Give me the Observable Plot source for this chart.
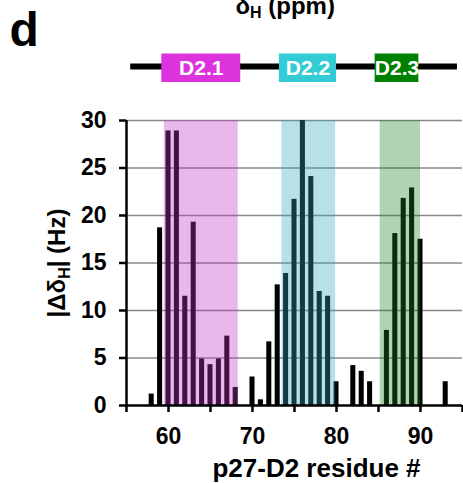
<!DOCTYPE html>
<html><head><meta charset="utf-8">
<script src="https://cdn.jsdelivr.net/npm/d3@7"></script>
<script src="https://cdn.jsdelivr.net/npm/@observablehq/plot@0.6"></script>
<style>body{margin:0;background:#fff}</style>
</head><body><div id="chart"></div>
<script>
// residue numbers and |Δδ_H| values (Hz)
const residues = [58,59,60,61,62,63,64,65,66,67,68,70,71,72,73,74,75,76,77,78,79,80,82,83,84,86,87,88,89,90,93];
const values   = [1.2,18.7,28.9,28.9,11.5,19.3,4.9,4.3,4.9,7.3,1.9,3.0,0.6,6.7,12.7,13.9,21.7,30.0,24.1,12.0,11.5,2.5,4.2,3.6,2.5,7.9,18.1,21.8,22.9,17.5,2.5];

// shaded regions
const regionNames = ["D2.1","D2.2","D2.3"];
const regionStart = [59.5, 73.5, 85.2];
const regionEnd   = [68.3, 79.9, 90.0];
const regionColor = ["#c030c0","#30a8b8","#208020"];

// domain diagram boxes
const boxStart = [59.2, 73.2, 84.6];
const boxEnd   = [68.6, 80.0, 89.8];
const boxColor = ["#dd33dd","#33ccd6","#008000"];
const diagramStart = 55.5, diagramEnd = 94.4;

const xTicks = [55,60,65,70,75,80,85,90,95];
const xTickLabels = [60,70,80,90];
const yTicks = [0,5,10,15,20,25,30];

const bars = residues.map((r,i)=>({res:r, val:values[i]}));
const regions = regionNames.map((n,i)=>({name:n, x1:regionStart[i], x2:regionEnd[i], color:regionColor[i]}));
const boxes = regionNames.map((n,i)=>({name:n, x1:boxStart[i], x2:boxEnd[i], color:boxColor[i]}));

const font = "'Liberation Sans', Arial, Helvetica, sans-serif";

const svg = Plot.plot({
  width: 463, height: 483,
  marginLeft: 126, marginRight: 1, marginTop: 120, marginBottom: 78,
  style: {fontFamily: font, fontWeight: "bold", color: "black", background: "white", overflow: "visible"},
  x: {domain: [55, 95]},
  y: {domain: [0, 30]},
  marks: [
    Plot.gridY(yTicks.filter(d=>d>0), {stroke: "#888", strokeOpacity: 1, strokeWidth: 1.5}),
    Plot.rectY(bars, {x1: d=>d.res-0.3, x2: d=>d.res+0.3, y1: 0, y2: "val", fill: "black"}),
    Plot.rect(regions, {x1: "x1", x2: "x2", y1: 0, y2: 30, fill: "color", fillOpacity: 0.35}),
    Plot.ruleY([0], {stroke: "black", strokeWidth: 2.5}),
    Plot.ruleX([55], {y1: 0, y2: 30, stroke: "black", strokeWidth: 2.5}),
    Plot.axisX({ticks: xTicks, tickFormat: d => xTickLabels.includes(d) ? String(d) : "", tickSize: 7, tickPadding: 15, strokeWidth: 2.5, fontSize: 23, fontWeight: "bold", label: null}),
    Plot.axisY({ticks: yTicks, tickSize: 7, tickPadding: 13, strokeWidth: 2.5, fontSize: 23, fontWeight: "bold", label: null}),
    Plot.text(["p27-D2 residue #"], {frameAnchor: "bottom", dx: 22, dy: 71, lineAnchor: "bottom", fontSize: 26, fontWeight: "bold", fill: "black"}),
    Plot.text(["|ΔδH| (Hz)"], {frameAnchor: "left", dx: -69, dy: 0, rotate: -90, lineAnchor: "middle", textAnchor: "middle", fontSize: 24, fontWeight: "bold", fill: "black"}),
    // domain diagram
    Plot.ruleY([35.68], {x1: diagramStart, x2: diagramEnd, stroke: "black", strokeWidth: 6}),
    Plot.rect(boxes, {x1: "x1", x2: "x2", y1: 34.0, y2: 37.0, fill: "color"}),
    Plot.text(boxes, {x: d=>(d.x1+d.x2)/2, y: 35.5, text: "name", fill: "white", fontSize: 21, fontWeight: "bold", lineAnchor: "middle"}),
    // panel letter and top title
    Plot.text(["d"], {frameAnchor: "top-left", dx: -117, dy: -75, textAnchor: "start", lineAnchor: "bottom", fontSize: 48, fontWeight: "bold", fill: "black"}),
    Plot.text(["δH (ppm)"], {frameAnchor: "top-left", dx: 109, dy: -107, textAnchor: "start", lineAnchor: "bottom", fontSize: 24, fontWeight: "bold", fill: "black"})
  ]
});

function subscriptify(full, parts, subSize, shift) {
  d3.select(svg).selectAll("text").filter(function(){return this.textContent === full;}).each(function(){
    const t = d3.select(this);
    t.text(null);
    let prevSub = false;
    parts.forEach(p => {
      const s = t.append("tspan").text(p.t);
      if (p.sub) { s.attr("font-size", subSize).attr("dy", shift); prevSub = true; }
      else if (prevSub) { s.attr("dy", -shift); prevSub = false; }
    });
  });
}
subscriptify("|ΔδH| (Hz)", [{t:"|Δδ"},{t:"H", sub:true},{t:"| (Hz)"}], 16, 5);
subscriptify("δH (ppm)", [{t:"δ"},{t:"H", sub:true},{t:" (ppm)"}], 16, 4);

document.getElementById("chart").appendChild(svg);
</script>
</body></html>
